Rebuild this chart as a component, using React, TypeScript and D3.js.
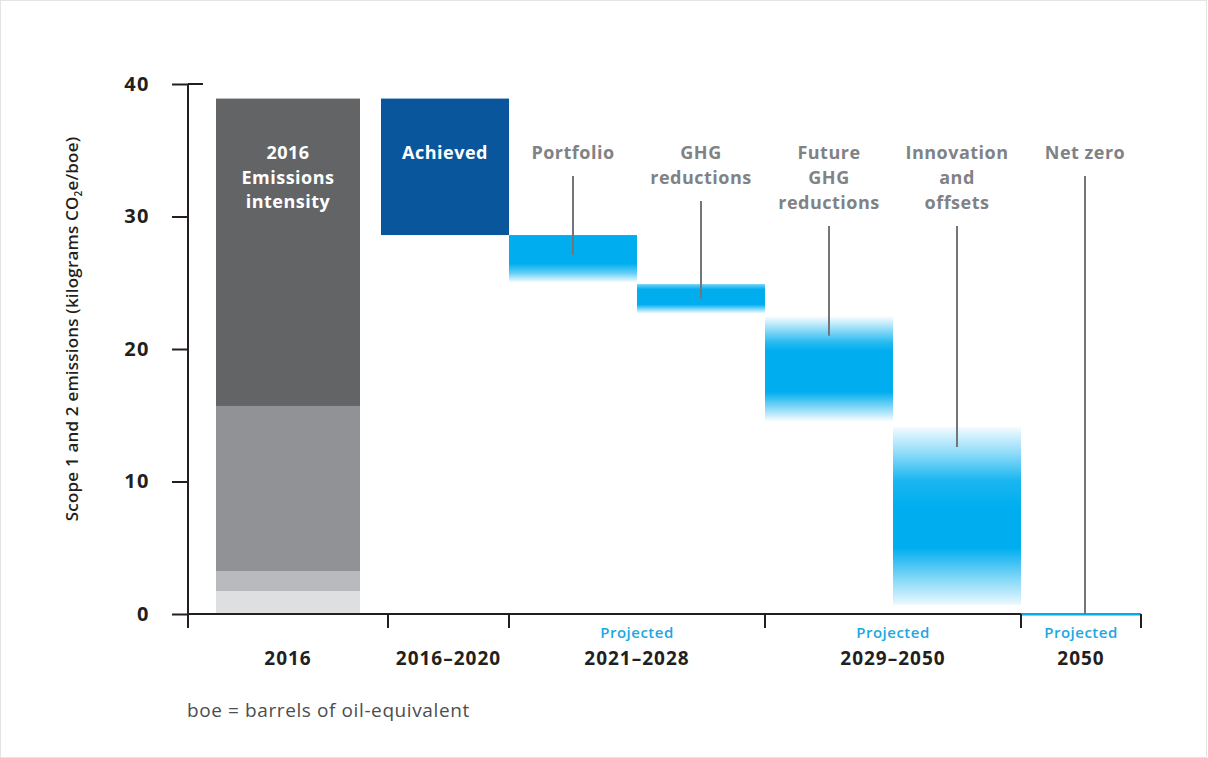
import { useEffect, useRef } from "react";
import * as d3 from "d3";

// 2016 baseline bar, split in shades (top value of each shade)
const baseCategory = "2016";
const baseLabel = ["2016", "Emissions", "intensity"];
const baseShadeTops = [38.9, 15.7, 3.2, 1.7];

// waterfall steps
const stepKeys = ["achieved", "portfolio", "ghg", "future", "innovation", "netzero"];
const stepLabels = [
  ["Achieved"],
  ["Portfolio"],
  ["GHG", "reductions"],
  ["Future", "GHG", "reductions"],
  ["Innovation", "and", "offsets"],
  ["Net zero"],
];
const stepTop = [38.9, 28.6, 24.9, 22.5, 14.1, 0];
const stepBottom = [28.6, 25.0, 22.7, 14.5, 0.7, 0];
const pointerEnd = [null, 27.1, 23.8, 21.0, 12.6, 0];

// periods on the x axis (first / last step of each)
const periodLabels = ["2016", "2016–2020", "2021–2028", "2029–2050", "2050"];
const periodFirst = [null, "achieved", "portfolio", "future", "netzero"];
const periodLast = [null, "achieved", "ghg", "innovation", "netzero"];
const periodProjected = [false, false, true, true, true];

const yTicks = [0, 10, 20, 30, 40];

const FONT = "'Open Sans', sans-serif";
const CYAN = "#00aeef";

// fade profiles for the projected bars (offset, opacity)
const fades: Record<string, [number, number][]> = {
  portfolio: [[0, 1], [0.6, 1], [0.8, 0.6], [1, 0]],
  ghg: [[0, 0.55], [0.18, 1], [0.7, 1], [1, 0.05]],
  future: [[0, 0], [0.25, 0.85], [0.33, 1], [0.72, 1], [1, 0]],
  innovation: [[0, 0.05], [0.15, 0.45], [0.3, 0.9], [0.45, 1], [0.68, 1], [0.85, 0.5], [1, 0.08]],
};

export default function App() {
  const svgRef = useRef<SVGSVGElement>(null);

  useEffect(() => {
    if (!svgRef.current) return;
    const width = 1208;
    const height = 758;
    const svg = d3.select(svgRef.current);
    svg.selectAll("*").remove();
    svg.attr("width", width).attr("height", height);

    svg.append("rect")
      .attr("x", 0.5).attr("y", 0.5)
      .attr("width", width - 2).attr("height", height - 1)
      .attr("fill", "#fff").attr("stroke", "#e4e4e4");

    const axisX = 188;
    const y = d3.scaleLinear().domain([0, 40]).range([614, 84]);
    const x = d3.scaleBand().domain(stepKeys).range([381, 1149]);
    const xBase = d3.scaleBand().domain([baseCategory]).range([216, 360]);

    const defs = svg.append("defs");
    Object.entries(fades).forEach(([key, stops]) => {
      const g = defs.append("linearGradient")
        .attr("id", `fade-${key}`)
        .attr("x1", 0).attr("y1", 0).attr("x2", 0).attr("y2", 1);
      stops.forEach(([o, op]) => {
        g.append("stop")
          .attr("offset", o)
          .attr("stop-color", CYAN)
          .attr("stop-opacity", op);
      });
    });

    // baseline bar
    const bx = xBase(baseCategory)!;
    const shadeColors = ["#636466", "#919295", "#b9babd", "#dedfe1"];
    baseShadeTops.forEach((top, i) => {
      const bottom = i < baseShadeTops.length - 1 ? baseShadeTops[i + 1] : 0;
      svg.append("rect")
        .attr("x", bx)
        .attr("y", y(top))
        .attr("width", xBase.bandwidth())
        .attr("height", y(bottom) - y(top))
        .attr("fill", shadeColors[i]);
    });

    const labelTop = 153;
    const labelStyle = (sel: d3.Selection<SVGTextElement, unknown, null, undefined>) =>
      sel.attr("dy", "0.35em")
        .attr("text-anchor", "middle")
        .style("font-family", FONT)
        .style("font-weight", 700)
        .style("font-size", "18px")
        .style("letter-spacing", "0.5px");

    baseLabel.forEach((t, i) => {
      svg.append("text")
        .attr("x", bx + xBase.bandwidth() / 2)
        .attr("y", labelTop + i * 24.5)
        .call(labelStyle)
        .style("fill", "#fff")
        .text(t);
    });

    // waterfall steps
    stepKeys.forEach((key, i) => {
      const x0 = x(key)!;
      const top = y(stepTop[i]);
      const h = Math.max(2, y(stepBottom[i]) - top);
      let fill = CYAN;
      if (key === "achieved") fill = "#0a569c";
      else if (fades[key]) fill = `url(#fade-${key})`;
      if (key === "netzero") {
        svg.append("rect")
          .attr("x", x0).attr("y", y(0) - 1)
          .attr("width", x.bandwidth() - 8).attr("height", 2.5)
          .attr("fill", CYAN);
      } else {
        svg.append("rect")
          .attr("x", x0).attr("y", top)
          .attr("width", x.bandwidth()).attr("height", h)
          .attr("fill", fill);
      }
    });

    // connectors
    stepKeys.forEach((key, i) => {
      const end = pointerEnd[i];
      if (end === null) return;
      const cx = x(key)! + x.bandwidth() / 2;
      const n = stepLabels[i].length;
      svg.append("line")
        .attr("x1", cx).attr("x2", cx)
        .attr("y1", labelTop + (n - 1) * 25 + 23)
        .attr("y2", y(end))
        .attr("stroke", "#747578")
        .attr("stroke-width", 2);
    });

    // step labels
    stepKeys.forEach((key, i) => {
      const cx = x(key)! + x.bandwidth() / 2;
      stepLabels[i].forEach((t, j) => {
        svg.append("text")
          .attr("x", cx)
          .attr("y", labelTop + j * 25)
          .call(labelStyle)
          .style("fill", key === "achieved" ? "#fff" : "#808285")
          .text(t);
      });
    });

    // y axis
    const yAxis = svg.append("g")
      .attr("transform", `translate(${axisX},0)`)
      .call(d3.axisLeft(y).tickValues(yTicks).tickSize(16).tickPadding(22));
    yAxis.select(".domain").remove();
    yAxis.selectAll(".tick line").attr("stroke", "#231f20").attr("stroke-width", 2);
    yAxis.selectAll(".tick text")
      .style("font-family", FONT)
      .style("font-weight", 700)
      .style("font-size", "20px")
      .style("letter-spacing", "1.5px")
      .style("fill", "#231f20");

    svg.append("line")
      .attr("x1", axisX).attr("x2", axisX + 15)
      .attr("y1", y(40)).attr("y2", y(40))
      .attr("stroke", "#231f20").attr("stroke-width", 2);
    svg.append("line")
      .attr("x1", axisX).attr("x2", axisX)
      .attr("y1", y(40)).attr("y2", y(0) + 14)
      .attr("stroke", "#231f20").attr("stroke-width", 2);

    // x baseline
    const xEnd = x("netzero")! + x.bandwidth() - 8;
    svg.append("line")
      .attr("x1", axisX).attr("x2", x("netzero")!)
      .attr("y1", y(0)).attr("y2", y(0))
      .attr("stroke", "#231f20").attr("stroke-width", 2);

    const tickXs = [axisX, x("achieved")! + 7, x("portfolio")!, x("future")!, x("netzero")!, xEnd];
    tickXs.forEach((tx) => {
      svg.append("line")
        .attr("x1", tx).attr("x2", tx)
        .attr("y1", y(0)).attr("y2", y(0) + 14)
        .attr("stroke", "#231f20").attr("stroke-width", 2);
    });

    // period labels
    periodLabels.forEach((lab, i) => {
      let cx: number;
      if (i === 0) cx = bx + xBase.bandwidth() / 2;
      else {
        const a = i === 1 ? tickXs[1] : x(periodFirst[i]!)!;
        const b = i === 4 ? xEnd : x(periodLast[i]!)! + x.bandwidth();
        cx = (a + b) / 2;
      }
      svg.append("text")
        .attr("x", cx).attr("y", 658)
        .attr("dy", "0.35em")
        .attr("text-anchor", "middle")
        .style("font-family", FONT)
        .style("font-weight", 700)
        .style("font-size", "19px")
        .style("letter-spacing", "1px")
        .style("fill", "#231f20")
        .text(lab);
      if (periodProjected[i]) {
        svg.append("text")
          .attr("x", cx).attr("y", 633)
          .attr("dy", "0.35em")
          .attr("text-anchor", "middle")
          .style("font-family", FONT)
          .style("font-weight", 600)
          .style("font-size", "15px")
          .style("letter-spacing", "0.5px")
          .style("fill", "#1ba8e3")
          .text("Projected");
      }
    });

    // y title
    const yt = svg.append("text")
      .attr("transform", `translate(72,${(y(0) + y(40)) / 2 - 20}) rotate(-90)`)
      .attr("dy", "0.35em")
      .attr("text-anchor", "middle")
      .style("font-family", FONT)
      .style("font-weight", 600)
      .style("font-size", "17px")
      .style("letter-spacing", "0.2px")
      .style("fill", "#231f20");
    yt.append("tspan").text("Scope 1 and 2 emissions (kilograms CO");
    yt.append("tspan").attr("dy", "4").style("font-size", "10px").text("2");
    yt.append("tspan").attr("dy", "-4").text("e/boe)");

    // footnote
    svg.append("text")
      .attr("x", 187).attr("y", 710)
      .attr("dy", "0.35em")
      .style("font-family", FONT)
      .style("font-size", "19px")
      .style("letter-spacing", "0.6px")
      .style("fill", "#4d4d4f")
      .text("boe = barrels of oil-equivalent");
  }, []);

  return (
    <div style={{ position: "absolute", left: 0, top: 0, background: "#fff" }}>
      <svg ref={svgRef} style={{ display: "block" }}></svg>
    </div>
  );
}
